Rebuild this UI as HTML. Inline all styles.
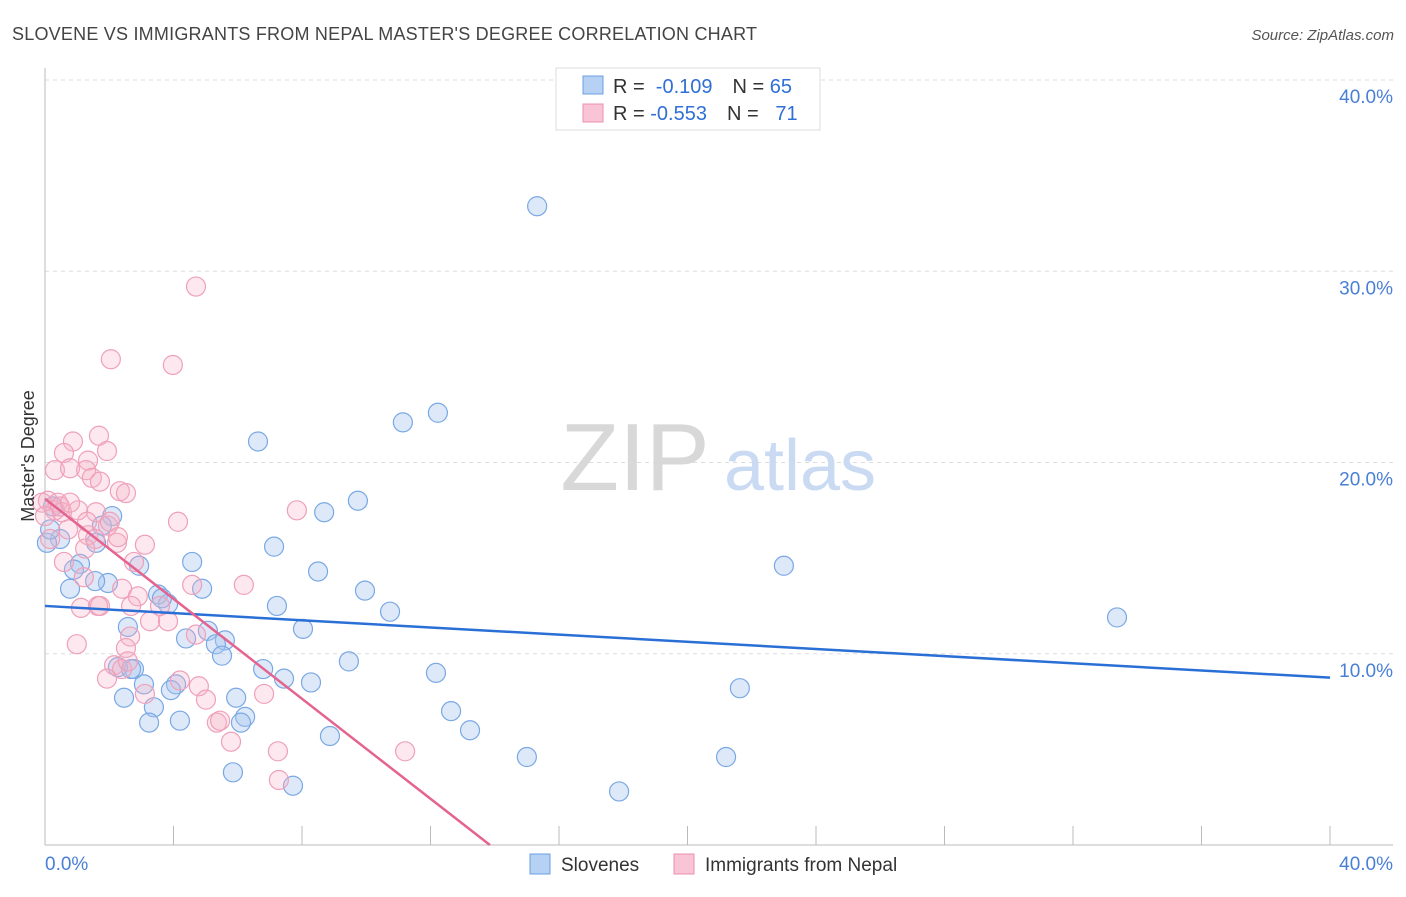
<!DOCTYPE html>
<html><head><meta charset="utf-8"><style>
body{margin:0;background:#fff;font-family:"Liberation Sans",sans-serif}
svg text{font-family:"Liberation Sans",sans-serif}
</style></head><body>
<svg id="chart" width="1406" height="892" viewBox="0 0 1406 892" xmlns="http://www.w3.org/2000/svg">
<text x="12" y="40" font-size="18" fill="#444" textLength="745">SLOVENE VS IMMIGRANTS FROM NEPAL MASTER'S DEGREE CORRELATION CHART</text>
<text x="1394" y="40" font-size="15" fill="#555" font-style="italic" text-anchor="end">Source: ZipAtlas.com</text>
<g id="grid"></g>
<g id="axes"></g>
<g>
<text x="635" y="490" font-size="96" font-family="Liberation Serif,serif" fill="#d8d8d8" text-anchor="middle">ZIP</text>
<text x="800" y="490" font-size="72" fill="#c9daf2" text-anchor="middle">atlas</text>
</g>
<g id="points"></g>
<g id="lines"></g>
<text transform="translate(34,456) rotate(-90)" font-size="18" fill="#333" text-anchor="middle">Master's Degree</text>
<g>
<rect x="556" y="68" width="264" height="62" fill="#fff" stroke="#ddd"/>
<rect x="583" y="76" width="20" height="18" fill="#b7d1f4" stroke="#6a9fe0"/>
<rect x="583" y="104" width="20" height="18" fill="#f9c4d5" stroke="#ec90ae"/>
<text x="613" y="93" font-size="20" fill="#333" xml:space="preserve">R =  <tspan fill="#2f6fd6">-0.109</tspan><tspan dx="20">N = </tspan><tspan fill="#2f6fd6">65</tspan></text>
<text x="613" y="120" font-size="20" fill="#333" xml:space="preserve">R = <tspan fill="#2f6fd6">-0.553</tspan><tspan dx="20">N =  </tspan><tspan fill="#2f6fd6"> 71</tspan></text>
</g>
<g>
<rect x="530" y="854" width="20" height="20" fill="#b7d1f4" stroke="#6a9fe0"/>
<text x="561" y="871" font-size="19" fill="#333">Slovenes</text>
<rect x="674" y="854" width="20" height="20" fill="#f9c4d5" stroke="#ec90ae"/>
<text x="705" y="871" font-size="19" fill="#333">Immigrants from Nepal</text>
</g>
</svg>
<script>
const yTicks=[10,20,30,40];
const yTickLabels=["10.0%","20.0%","30.0%","40.0%"];
const xTickLabels=["0.0%","40.0%"];
const slovX=[15.32,12.23,11.14,6.63,9.74,8.69,2.09,0.25,1.77,0.47,1.59,7.13,4.58,2.93,23.0,1.09,8.50,1.96,0.78,4.89,9.96,3.52,3.83,7.22,10.74,33.37,2.58,8.03,5.07,4.39,5.60,5.32,5.51,9.46,6.79,2.77,2.27,12.17,7.44,8.28,3.08,4.08,3.92,21.63,2.46,5.95,3.39,12.64,6.23,6.10,3.24,4.20,13.23,8.87,15.00,21.20,5.85,7.72,17.87,0.06,0.16,0.90,1.56,2.68,3.64];
const slovY=[33.4,22.6,22.1,21.1,18.0,17.4,17.2,17.7,16.7,16.0,15.8,15.6,14.8,14.6,14.6,14.7,14.3,13.7,13.4,13.4,13.3,13.1,12.6,12.5,12.2,11.9,11.4,11.3,11.2,10.8,10.7,10.5,9.9,9.6,9.2,9.2,9.3,9.0,8.7,8.5,8.4,8.4,8.1,8.2,7.7,7.7,7.2,7.0,6.7,6.4,6.4,6.5,6.0,5.7,4.6,4.6,3.8,3.1,2.8,15.8,16.5,14.4,13.8,9.2,12.9];
const nepX=[4.70,2.05,3.98,1.68,0.87,1.93,0.59,1.34,0.31,0.78,1.28,1.46,1.71,2.33,2.52,0.09,0.40,0.31,0.53,1.03,1.59,4.14,7.84,0.72,1.96,1.34,1.56,2.24,3.11,0.59,1.21,2.77,4.58,6.19,2.40,2.89,1.12,1.65,2.68,3.27,3.83,2.65,2.52,4.70,0.99,2.15,2.40,1.93,4.79,3.11,5.01,6.82,5.35,5.45,5.79,7.25,11.21,7.28,0.16,-0.09,0.47,2.02,1.25,2.27,3.58,1.71,2.58,4.20,0.78,0.0,1.31];
const nepY=[29.2,25.4,25.1,21.4,21.1,20.6,20.5,20.1,19.6,19.7,19.6,19.2,19.0,18.5,18.4,18.0,17.9,17.5,17.4,17.5,17.4,16.9,17.5,16.5,16.7,16.2,16.0,15.8,15.7,14.8,14.0,14.8,13.6,13.6,13.4,13.0,12.4,12.5,12.5,11.7,11.7,10.9,10.3,11.0,10.5,9.4,9.2,8.7,8.3,7.9,7.6,7.9,6.4,6.5,5.4,4.9,4.9,3.4,16.0,17.9,17.7,16.9,15.5,16.1,12.5,12.5,9.6,8.6,17.9,17.2,16.9];
const slovLine=[[0,12.5],[40,8.75]];
const nepLine=[[0,18.1],[13.85,0]];
const NS="http://www.w3.org/2000/svg";
const X=v=>45+v/40*1285, Y=v=>845-v*19.125;
function mk(t,a,p){const e=document.createElementNS(NS,t);for(const k in a)e.setAttribute(k,a[k]);p.appendChild(e);return e;}
const grid=document.getElementById('grid'),axes=document.getElementById('axes');
yTicks.forEach((t,i)=>{
 const l=mk('line',{x1:45,x2:1393,y1:Y(t),y2:Y(t),stroke:'#ddd','stroke-dasharray':'4,4'},grid);
 
 
 const tx=mk('text',{x:1393,y:Y(t)+23,'font-size':19,fill:'#4a7fd6','text-anchor':'end'},axes);
 tx.textContent=yTickLabels[i];
 
 
});
mk('line',{x1:45,x2:45,y1:68,y2:845,stroke:'#bbb'},axes);
mk('line',{x1:45,x2:1393,y1:845,y2:845,stroke:'#bbb'},axes);
for(let i=0;i<=10;i++){mk('line',{x1:X(i*4),x2:X(i*4),y1:826,y2:845,stroke:'#bbb'},axes);}
const xl0=mk('text',{x:45,y:870,'font-size':19,fill:'#4a7fd6'},axes);xl0.textContent=xTickLabels[0];


const xl1=mk('text',{x:1393,y:870,'font-size':19,fill:'#4a7fd6','text-anchor':'end'},axes);xl1.textContent=xTickLabels[1];


const pts=document.getElementById('points');
slovX.forEach((x,i)=>{const c=mk('circle',{cx:X(x),cy:Y(slovY[i]),r:9.5,fill:'rgba(165,198,240,0.38)',stroke:'#7aa8e4','stroke-width':1.2},pts);
 
 });
nepX.forEach((x,i)=>{const c=mk('circle',{cx:X(x),cy:Y(nepY[i]),r:9.5,fill:'rgba(245,178,200,0.3)',stroke:'#efa0ba','stroke-width':1.2},pts);
 
 });
const ln=document.getElementById('lines');
const a=mk('line',{x1:X(slovLine[0][0]),y1:Y(slovLine[0][1]),x2:X(slovLine[1][0]),y2:Y(slovLine[1][1]),stroke:'#2a6fd6','stroke-width':2.5},ln);


const b=mk('line',{x1:X(nepLine[0][0]),y1:Y(nepLine[0][1]),x2:X(nepLine[1][0]),y2:Y(nepLine[1][1]),stroke:'#e4638f','stroke-width':2.5},ln);


</script>
</body></html>
